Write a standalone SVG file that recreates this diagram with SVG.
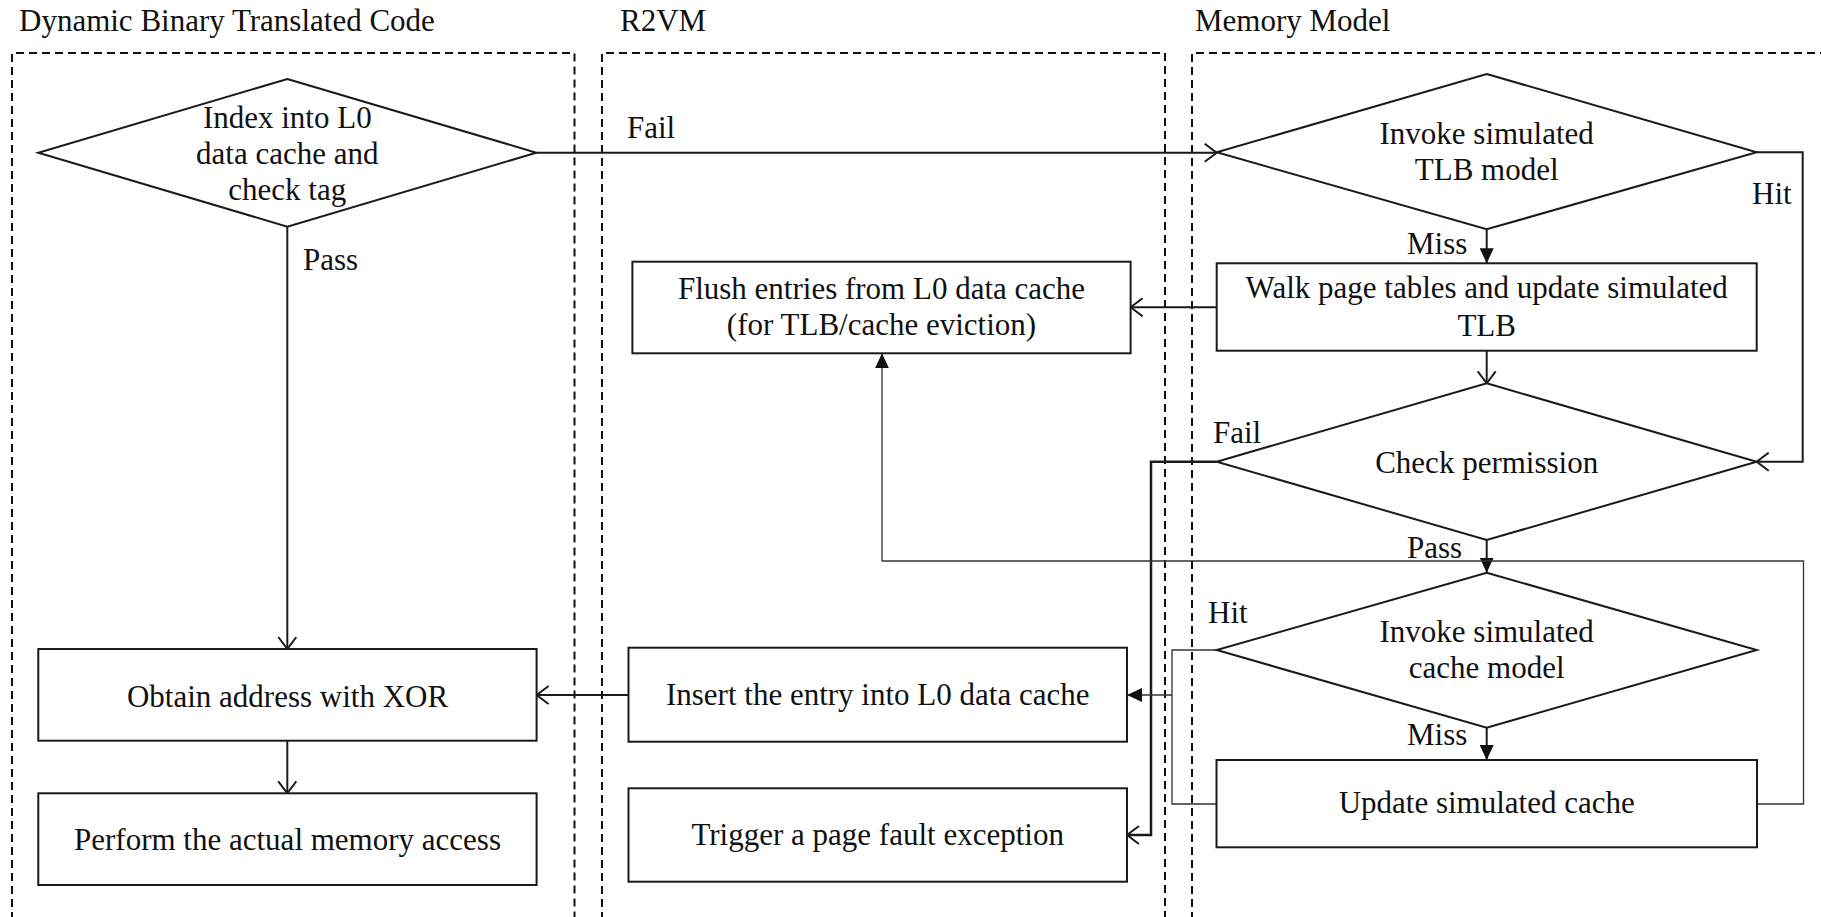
<svg xmlns="http://www.w3.org/2000/svg" width="1821" height="917" viewBox="0 0 1821 917">
  <defs>
    <style>
      text { font-family: "Liberation Serif", "Times New Roman", serif; font-size: 31px; fill: #111; }
      .mid { text-anchor: middle; }
      .lane { fill: none; stroke: #111; stroke-width: 2; stroke-dasharray: 8 5; }
      .shape { fill: #fff; stroke: #1a1a1a; stroke-width: 2; }
      .wire { fill: none; stroke: #1a1a1a; stroke-width: 2; }
      .thin { fill: none; stroke: #333; stroke-width: 1.3; }
      .open { marker-end: url(#openHead); }
      .solid { marker-end: url(#solidHead); }
    </style>
    <marker id="openHead" viewBox="0 0 14 20" refX="13" refY="10" markerWidth="14" markerHeight="20" markerUnits="userSpaceOnUse" orient="auto">
      <path d="M1,1 L13,10 L1,19" fill="none" stroke="#1a1a1a" stroke-width="2"/>
    </marker>
    <marker id="solidHead" viewBox="0 0 15 14" refX="15" refY="7" markerWidth="15" markerHeight="14" markerUnits="userSpaceOnUse" orient="auto">
      <path d="M0,0 L15,7 L0,14 Z" fill="#111"/>
    </marker>
  </defs>
  <rect width="1821" height="917" fill="#fff"/>

  <!-- swimlanes -->
  <g id="lanes">
    <text x="19" y="31">Dynamic Binary Translated Code</text>
    <path class="lane" d="M12,920 V53 H574.5 V920"/>
    <text x="620" y="31">R2VM</text>
    <path class="lane" d="M602,920 V53 H1165 V920"/>
    <text x="1195" y="31">Memory Model</text>
    <path class="lane" d="M1192,920 V53 H1830"/>
  </g>

  <!-- connectors -->
  <g id="connectors">
    <path class="wire open" d="M536.3,152.7 H1216.7"/>
    <path class="wire open" d="M287.3,226.7 V649"/>
    <path class="wire open" d="M287.3,740.7 V793.3"/>
    <path class="wire open" d="M628.5,695 H536.6"/>
    <path class="wire solid" d="M1486.7,229.3 V263.3"/>
    <path class="wire open" d="M1756.7,152.3 H1802.7 V461.7 H1756.7"/>
    <path class="wire open" d="M1216.7,307.3 H1130.6"/>
    <path class="wire open" d="M1486.7,350.7 V383.3"/>
    <path class="wire solid" d="M1486.7,540 V572.7"/>
    <path class="wire open" style="stroke-width:2.5" d="M1216.7,461.7 H1151 V835 H1127"/>
    <path class="thin" d="M1216.7,650 H1172 V804 H1216"/>
    <path class="thin solid" d="M1172,695 H1127"/>
    <path class="wire solid" d="M1486.7,727.7 V760"/>
    <path class="thin solid" d="M1757,804 H1803.5 V561 H882 V353.3"/>

    <text x="627" y="138">Fail</text>
    <text x="303" y="270">Pass</text>
    <text x="1752" y="204">Hit</text>
    <text x="1407" y="254">Miss</text>
    <text x="1213" y="443">Fail</text>
    <text x="1407" y="558">Pass</text>
    <text x="1208" y="623">Hit</text>
    <text x="1407" y="745">Miss</text>
  </g>

  <!-- Dynamic Binary Translated Code lane -->
  <g id="check-tag">
    <polygon class="shape" points="287.3,79 536.3,152.7 287.3,226.7 38.3,152.7"/>
    <text class="mid" x="287.3" y="128">Index into L0</text>
    <text class="mid" x="287.3" y="163.5">data cache and</text>
    <text class="mid" x="287.3" y="199.5">check tag</text>
  </g>
  <g id="obtain-address">
    <rect class="shape" x="38.3" y="649" width="498.3" height="91.7"/>
    <text class="mid" x="287.5" y="706.5">Obtain address with XOR</text>
  </g>
  <g id="memory-access">
    <rect class="shape" x="38.3" y="793.3" width="498.3" height="91.7"/>
    <text class="mid" x="287.5" y="850">Perform the actual memory access</text>
  </g>

  <!-- R2VM lane -->
  <g id="flush-entries">
    <rect class="shape" x="632.4" y="261.7" width="498.2" height="91.6"/>
    <text class="mid" x="881.5" y="299.3">Flush entries from L0 data cache</text>
    <text class="mid" x="881.5" y="335">(for TLB/cache eviction)</text>
  </g>
  <g id="insert-entry">
    <rect class="shape" x="628.5" y="647.7" width="498.5" height="94"/>
    <text class="mid" x="877.7" y="705">Insert the entry into L0 data cache</text>
  </g>
  <g id="page-fault">
    <rect class="shape" x="628.5" y="788.3" width="498.5" height="93.4"/>
    <text class="mid" x="877.7" y="845">Trigger a page fault exception</text>
  </g>

  <!-- Memory Model lane -->
  <g id="tlb-model">
    <polygon class="shape" points="1486.7,74 1756.7,152.3 1486.7,229.3 1216.7,152.3"/>
    <text class="mid" x="1486.7" y="144">Invoke simulated</text>
    <text class="mid" x="1486.7" y="180">TLB model</text>
  </g>
  <g id="walk-page-tables">
    <rect class="shape" x="1216.7" y="263.3" width="540" height="87.4"/>
    <text class="mid" x="1486.7" y="298.3">Walk page tables and update simulated</text>
    <text class="mid" x="1486.7" y="336">TLB</text>
  </g>
  <g id="check-permission">
    <polygon class="shape" points="1486.7,383.3 1756.7,461.7 1486.7,540 1216.7,461.7"/>
    <text class="mid" x="1486.7" y="472.5">Check permission</text>
  </g>
  <g id="cache-model">
    <polygon class="shape" points="1486.7,572.7 1756.7,650 1486.7,727.7 1216.7,650"/>
    <text class="mid" x="1486.7" y="641.7">Invoke simulated</text>
    <text class="mid" x="1486.7" y="678.3">cache model</text>
  </g>
  <g id="update-cache">
    <rect class="shape" x="1216.5" y="760" width="540.5" height="87.3"/>
    <text class="mid" x="1486.7" y="813.3">Update simulated cache</text>
  </g>
</svg>
